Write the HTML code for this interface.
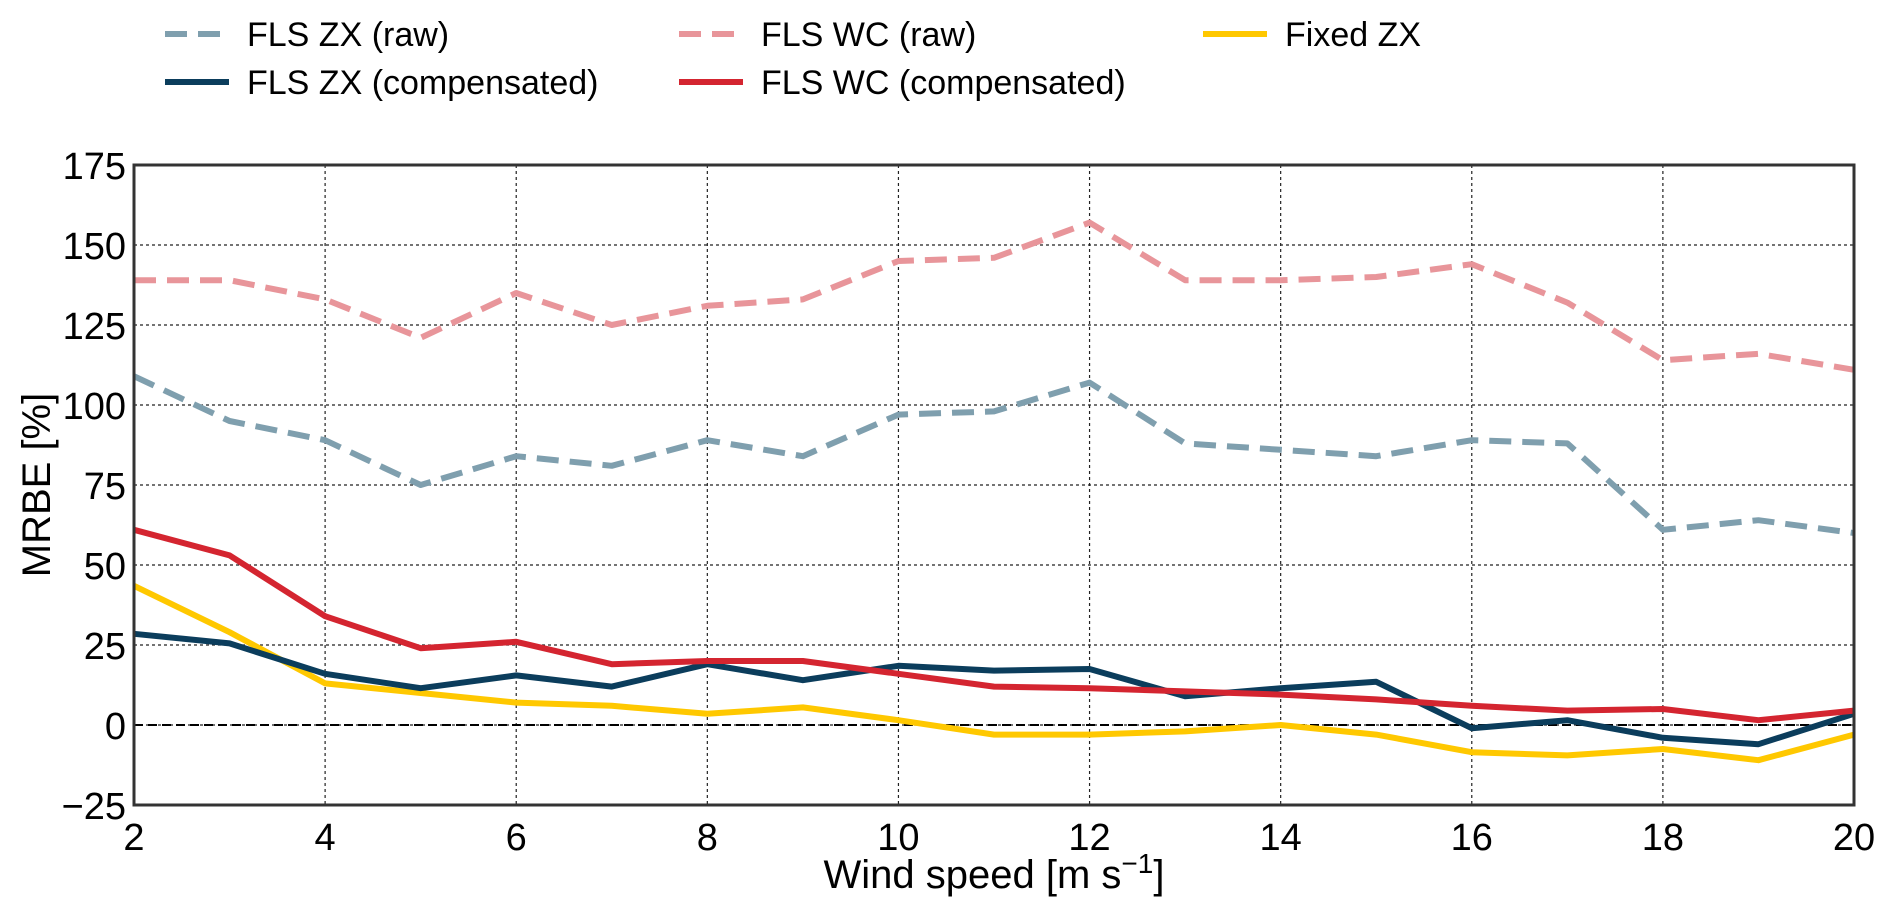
<!DOCTYPE html>
<html><head><meta charset="utf-8"><style>
html,body{margin:0;padding:0;background:#fff;}
svg{display:block;font-family:"Liberation Sans",Arial,sans-serif;}
</style></head><body>
<svg id="chart" width="1892" height="917" viewBox="0 0 1892 917"></svg>
<script>
const windSpeeds=[2,3,4,5,6,7,8,9,10,11,12,13,14,15,16,17,18,19,20];
const flsZxRaw=[109,95,89,75,84,81,89,84,97,98,107,88,86,84,89,88,61,64,60];
const flsWcRaw=[139,139,133,121,135,125,131,133,145,146,157,139,139,140,144,132,114,116,111];
const flsZxComp=[28.5,25.5,16,11.5,15.5,12,19,14,18.5,17,17.5,9,11.5,13.5,-1,1.5,-4,-6,3.5];
const flsWcComp=[61,53,34,24,26,19,20,20,16,12,11.5,10.5,9.5,8,6,4.5,5,1.5,4.5];
const fixedZx=[43.5,29,13,10,7,6,3.5,5.5,1.5,-3,-3,-2,0,-3,-8.5,-9.5,-7.5,-11,-3];
const xTicks=[2,4,6,8,10,12,14,16,18,20];
const yTicks=[-25,0,25,50,75,100,125,150,175];

const NS="http://www.w3.org/2000/svg";
const svg=document.getElementById('chart');
const L=134,R=1854,T=165,B=805;
const X=v=>L+(v-2)/(20-2)*(R-L);
const Y=v=>B-(v+25)/200*(B-T);
function mk(tag,attrs,parent){const e=document.createElementNS(NS,tag);for(const k in attrs)e.setAttribute(k,attrs[k]);(parent||svg).appendChild(e);return e;}

const grid=mk('g',{});


xTicks.forEach(t=>{const l=mk('line',{x1:X(t),x2:X(t),y1:T,y2:B,stroke:'#222','stroke-width':1.2,'stroke-dasharray':'3,3'},grid);

});
yTicks.forEach(t=>{const l=mk('line',{x1:L,x2:R,y1:Y(t),y2:Y(t),stroke:'#222','stroke-width':1.2,'stroke-dasharray':'3,3'},grid);

});
const zl=mk('line',{x1:L,x2:R,y1:Y(0),y2:Y(0),stroke:'#000','stroke-width':2,'stroke-dasharray':'9,5'});



const series=[
 {d:flsZxRaw,c:'#7f9fae',dash:'22,11',n:'fls-zx-raw-line'},
 {d:flsWcRaw,c:'#e8959a',dash:'22,11',n:'fls-wc-raw-line'},
 {d:fixedZx,c:'#ffc800',dash:'',n:'fixed-zx-line'},
 {d:flsZxComp,c:'#0b3d5c',dash:'',n:'fls-zx-comp-line'},
 {d:flsWcComp,c:'#d42530',dash:'',n:'fls-wc-comp-line'}
];
series.forEach(s=>{
 const p=mk('polyline',{points:s.d.map((v,i)=>X(windSpeeds[i])+','+Y(v)).join(' '),fill:'none',stroke:s.c,'stroke-width':6,'stroke-linejoin':'round'});
 if(s.dash)p.setAttribute('stroke-dasharray',s.dash);
 
 
});

const frame=mk('rect',{x:L,y:T,width:R-L,height:B-T,fill:'none',stroke:'#333','stroke-width':3});



xTicks.forEach(t=>{const e=mk('text',{x:X(t),y:B+45,'text-anchor':'middle','font-size':38});e.textContent=t;

});
yTicks.forEach(t=>{const e=mk('text',{x:L-8,y:Y(t)+14,'text-anchor':'end','font-size':38});e.textContent=t<0?'\u2212'+(-t):t;

});

const xl=mk('text',{x:(L+R)/2,y:888,'text-anchor':'middle','font-size':40});
xl.innerHTML='Wind speed [m s<tspan dy="-15" font-size="28">\u22121</tspan><tspan dy="15">]</tspan>';


const yl=mk('text',{x:0,y:0,'text-anchor':'middle','font-size':40,transform:'translate(50,'+((T+B)/2)+') rotate(-90)'});
yl.textContent='MRBE [%]';



const legend=[
 {x:165,y:34,c:'#7f9fae',dash:'22,11',t:'FLS ZX (raw)'},
 {x:679,y:34,c:'#e8959a',dash:'22,11',t:'FLS WC (raw)'},
 {x:1203,y:34,c:'#ffc800',dash:'',t:'Fixed ZX'},
 {x:165,y:82,c:'#0b3d5c',dash:'',t:'FLS ZX (compensated)'},
 {x:679,y:82,c:'#d42530',dash:'',t:'FLS WC (compensated)'}
];
legend.forEach(e=>{
 const g=mk('g',{});
 
 
 const l=mk('line',{x1:e.x,x2:e.x+64,y1:e.y,y2:e.y,stroke:e.c,'stroke-width':6},g);
 if(e.dash)l.setAttribute('stroke-dasharray',e.dash);
 const tx=mk('text',{x:e.x+82,y:e.y+12,'font-size':34},g);tx.textContent=e.t;
});
</script>
</body></html>
